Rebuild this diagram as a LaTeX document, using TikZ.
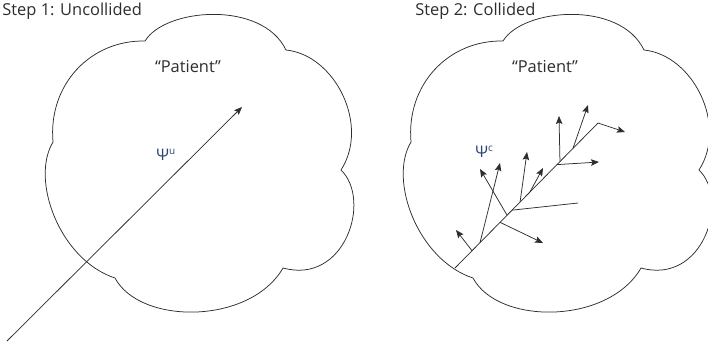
\documentclass[tikz,border=0pt]{standalone}
\usepackage{fontspec}
\setmainfont{Open Sans}
\usetikzlibrary{arrows.meta,calc}
\definecolor{ink}{RGB}{45,45,45}
\definecolor{psiblue}{RGB}{45,70,115}
\newcommand\cloudshape{%
  (145,41) .. controls (165,8) and (262,0) .. (286,50)
  .. controls (335,55) and (370,125) .. (341,170)
  .. controls (372,200) and (345,285) .. (283,268)
  .. controls (250,325) and (140,325) .. (115,278)
  .. controls (60,260) and (30,180) .. (53,142)
  .. controls (48,85) and (90,40) .. (145,41) -- cycle}
\begin{document}
\begin{tikzpicture}[x=1bp,y=-1bp,
  line width=0.75bp, draw=ink,
  cloudline/.style={draw=ink, line width=0.75bp},
  arr/.style={draw=ink, -{Stealth[length=8bp,width=6.5bp,inset=1.5bp]}},
  plain/.style={draw=ink},
  title/.style={font=\fontsize{16.5}{19}\selectfont, text=ink, anchor=base west, inner sep=0pt},
  patient/.style={font=\fontsize{16.5}{19}\selectfont, text=ink, inner sep=0pt},
  psi/.style={font=\fontsize{16}{18}\selectfont, text=psiblue, anchor=base west, inner sep=0pt}]
\useasboundingbox (0,0) rectangle (708,347);
\clip (0,0) rectangle (708,347);
% titles
\node[title] (t1) at (2,15) {Step 1: Uncollided};
\node[title] (t2) at (415,15) {Step 2: Collided};
% clouds
\draw[cloudline] \cloudshape;
\draw[cloudline, shift={(358,0)}] \cloudshape;
\node[patient] (p1) at (188,67) {“Patient”};
\node[patient] (p2) at (545,67) {“Patient”};
% step 1
\node[psi] (psiu) at (156,160) {Ψ\raisebox{0.65ex}{\fontsize{10}{11}\selectfont u}};
\coordinate (ls) at (7,341);
\coordinate (le) at (242,107);
\draw[arr] (ls) -- (le);
% step 2
\node[psi] (psic) at (475,157) {Ψ\raisebox{0.65ex}{\fontsize{10}{11}\selectfont c}};
\coordinate (ts) at (455,268);
\coordinate (te) at (598,123);
\coordinate (ke) at (625,132);
\draw[plain] (ts) -- (te);
\draw[arr] (te) -- (ke);
\coordinate (b1) at ($(ts)!0.119!(te)$);
\coordinate (b2) at ($(ts)!0.175!(te)$);
\coordinate (b3) at ($(ts)!0.315!(te)$);
\coordinate (b4) at ($(ts)!0.364!(te)$);
\coordinate (b5) at ($(ts)!0.399!(te)$);
\coordinate (b6) at ($(ts)!0.455!(te)$);
\coordinate (b7) at ($(ts)!0.524!(te)$);
\coordinate (b8) at ($(ts)!0.713!(te)$);
\coordinate (b9) at ($(ts)!0.734!(te)$);
\coordinate (b10) at ($(ts)!0.825!(te)$);
\coordinate (a1) at (456,230);
\coordinate (a2) at (500,163);
\coordinate (a3) at (543,243);
\coordinate (a4) at (480,169);
\coordinate (a5) at (578,203);
\coordinate (a6) at (527,152);
\coordinate (a7) at (543,168);
\coordinate (a8) at (599,162);
\coordinate (a9) at (559,116);
\coordinate (a10) at (588,105);
\draw[arr] (b1) -- (a1);
\draw[arr] (b2) -- (a2);
\draw[arr] (b3) -- (a3);
\draw[arr] (b4) -- (a4);
\draw[plain] (b5) -- (a5);
\draw[arr] (b6) -- (a6);
\draw[arr] (b7) -- (a7);
\draw[arr] (b8) -- (a8);
\draw[arr] (b9) -- (a9);
\draw[arr] (b10) -- (a10);
\end{tikzpicture}
\end{document}
